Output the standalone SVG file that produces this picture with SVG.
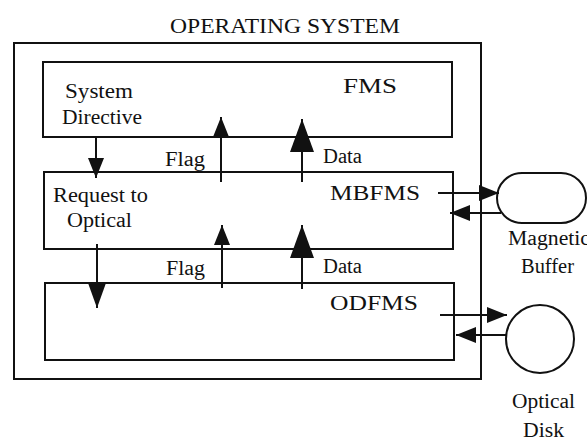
<svg xmlns="http://www.w3.org/2000/svg" width="587" height="444" viewBox="0 0 587 444">
<style>
.box{fill:none;stroke:#111;stroke-width:2}
.ln{fill:none;stroke:#111;stroke-width:2}
.t{font-family:"Liberation Serif","Times New Roman",serif;font-size:20px;fill:#111}
.tt{font-family:"Liberation Serif","Times New Roman",serif;font-size:21px;fill:#111}
</style>
<defs>
<marker id="ah" viewBox="0 0 20 16" refX="20" refY="8" markerWidth="20" markerHeight="16" markerUnits="userSpaceOnUse" orient="auto">
<path d="M0,0 L20,8 L0,16 z" fill="#111"/>
</marker>
<marker id="ahm" viewBox="0 0 25 18" refX="25" refY="9" markerWidth="25" markerHeight="18" markerUnits="userSpaceOnUse" orient="auto">
<path d="M0,0 L25,9 L0,18 z" fill="#111"/>
</marker>
<marker id="ahb" viewBox="0 0 33 24" refX="33" refY="12" markerWidth="33" markerHeight="24" markerUnits="userSpaceOnUse" orient="auto">
<path d="M0,0 L33,12 L0,24 z" fill="#111"/>
</marker>
</defs>
<rect width="587" height="444" fill="#fff"/>
<g id="operating-system">
<rect class="box" x="14" y="43" width="467" height="336"/>
<text class="tt" x="170" y="33" textLength="230" lengthAdjust="spacingAndGlyphs">OPERATING SYSTEM</text>
</g>
<g id="fms">
<rect class="box" x="43" y="62" width="409" height="75"/>
<text class="t" x="65" y="98" textLength="68" lengthAdjust="spacingAndGlyphs">System</text>
<text class="t" x="62" y="124" textLength="80" lengthAdjust="spacingAndGlyphs">Directive</text>
<text class="t" x="343" y="93" textLength="54" lengthAdjust="spacingAndGlyphs">FMS</text>
</g>
<g id="mbfms">
<rect class="box" x="44" y="172" width="409" height="77"/>
<text class="t" x="53" y="202" textLength="95" lengthAdjust="spacingAndGlyphs">Request to</text>
<text class="t" x="67" y="227" textLength="65" lengthAdjust="spacingAndGlyphs">Optical</text>
<text class="t" x="330" y="200" textLength="90" lengthAdjust="spacingAndGlyphs">MBFMS</text>
</g>
<g id="odfms">
<rect class="box" x="45" y="283" width="409" height="77"/>
<text class="t" x="330" y="310" textLength="88" lengthAdjust="spacingAndGlyphs">ODFMS</text>
</g>
<g id="magnetic-buffer">
<rect class="box" x="497" y="173" width="89" height="50" rx="25" ry="25"/>
<text class="t" x="508" y="245" textLength="82" lengthAdjust="spacingAndGlyphs">Magnetic</text>
<text class="t" x="521" y="273" textLength="53" lengthAdjust="spacingAndGlyphs">Buffer</text>
</g>
<g id="optical-disk">
<circle class="box" cx="540" cy="339" r="34"/>
<text class="t" x="512" y="408" textLength="63" lengthAdjust="spacingAndGlyphs">Optical</text>
<text class="t" x="523" y="437" textLength="41" lengthAdjust="spacingAndGlyphs">Disk</text>
</g>
<g id="connectors">
<line class="ln" x1="96" y1="137" x2="96" y2="178" marker-end="url(#ah)"/>
<line class="ln" x1="221" y1="182" x2="221" y2="117" marker-end="url(#ah)"/>
<line class="ln" x1="302" y1="182" x2="302" y2="119" marker-end="url(#ahb)"/>
<text class="t" x="165" y="166" textLength="40" lengthAdjust="spacingAndGlyphs">Flag</text>
<text class="t" x="323" y="163" textLength="39" lengthAdjust="spacingAndGlyphs">Data</text>
<line class="ln" x1="97" y1="244" x2="97" y2="308" marker-end="url(#ahm)"/>
<line class="ln" x1="222" y1="288" x2="222" y2="225" marker-end="url(#ah)"/>
<line class="ln" x1="302" y1="289" x2="302" y2="225" marker-end="url(#ahb)"/>
<text class="t" x="166" y="275" textLength="39" lengthAdjust="spacingAndGlyphs">Flag</text>
<text class="t" x="323" y="273" textLength="39" lengthAdjust="spacingAndGlyphs">Data</text>
<line class="ln" x1="438" y1="193" x2="499" y2="193" marker-end="url(#ah)"/>
<line class="ln" x1="501" y1="213" x2="450" y2="213" marker-end="url(#ah)"/>
<line class="ln" x1="440" y1="315" x2="507" y2="315" marker-end="url(#ah)"/>
<line class="ln" x1="507" y1="335" x2="456" y2="335" marker-end="url(#ah)"/>
</g>
</svg>
